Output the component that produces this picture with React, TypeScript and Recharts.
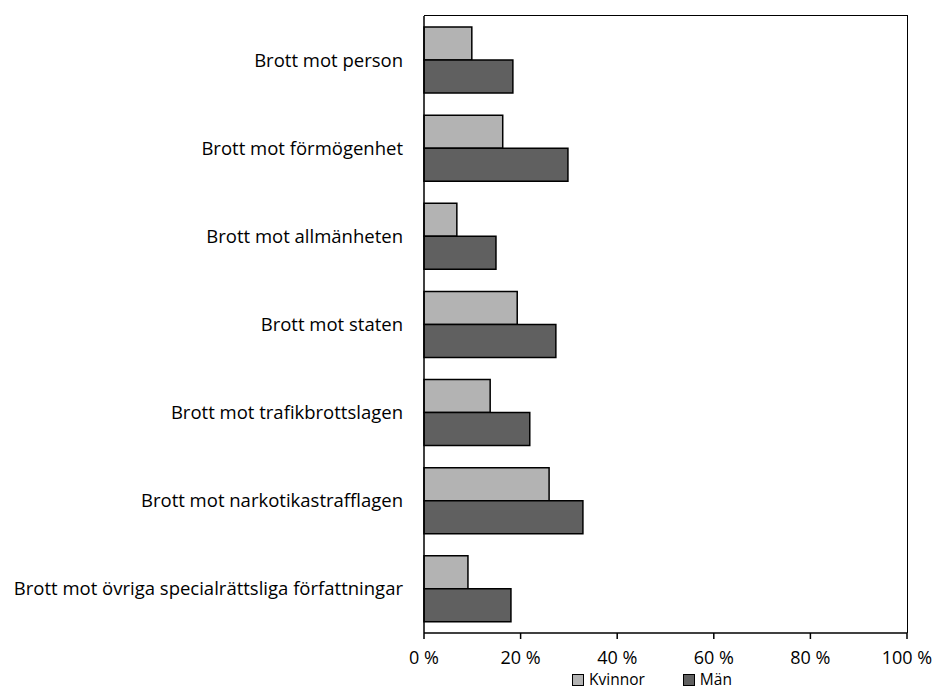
import React from "react";
import { BarChart, Bar, XAxis, YAxis } from "recharts";

const categories = [
	"Brott mot person",
	"Brott mot förmögenhet",
	"Brott mot allmänheten",
	"Brott mot staten",
	"Brott mot trafikbrottslagen",
	"Brott mot narkotikastrafflagen",
	"Brott mot övriga specialrättsliga författningar",
];

const kvinnor = [9.9, 16.3, 6.8, 19.3, 13.7, 25.9, 9.1];
const man = [18.4, 29.8, 14.9, 27.3, 21.9, 32.9, 18.0];

const xTicks = [0, 20, 40, 60, 80, 100];

const data = categories.map((name, i) => ({ name, kvinnor: kvinnor[i], man: man[i] }));

const FONT = "'Open Sans', sans-serif";
const KVINNOR_COLOR = "#b3b3b3";
const MAN_COLOR = "#606060";

// plot box
const PLOT = { left: 424, top: 16, right: 907, bottom: 633 };

const CategoryTick = (props: any) => {
	const { x, y, payload } = props;
	return (
		<text x={x - 13} y={y} dy="0.35em" textAnchor="end" fontSize={18.5} fill="#000" fontFamily={FONT}>
			{payload.value}
		</text>
	);
};

const legendItems = [
	{ label: "Kvinnor", color: KVINNOR_COLOR },
	{ label: "Män", color: MAN_COLOR },
];

export default function App() {
	return (
		<div style={{ position: "absolute", left: 0, top: 0, width: 946, height: 691, background: "#fff" }}>
			<BarChart
				width={946}
				height={691}
				data={data}
				layout="vertical"
				margin={{ top: PLOT.top, right: 946 - PLOT.right, bottom: 0, left: 0 }}
				barGap={0}
				barSize={33}
			>
				<XAxis
					type="number"
					domain={[0, 100]}
					ticks={xTicks}
					tickFormatter={(v) => `${v} %`}
					axisLine={{ stroke: "#000", strokeWidth: 1.5 }}
					tickLine={{ stroke: "#000", strokeWidth: 1.5 }}
					tickSize={6}
					tickMargin={12}
					tick={{ fontSize: 18, fill: "#000", fontFamily: FONT }}
					height={691 - PLOT.bottom}
					interval={0}
				/>
				<YAxis
					type="category"
					dataKey="name"
					width={PLOT.left}
					axisLine={{ stroke: "#000", strokeWidth: 1.5 }}
					tickLine={false}
					tick={<CategoryTick />}
					interval={0}
				/>
				<Bar dataKey="kvinnor" name="Kvinnor" fill={KVINNOR_COLOR} stroke="#000" strokeWidth={1.5} isAnimationActive={false} />
				<Bar dataKey="man" name="Män" fill={MAN_COLOR} stroke="#000" strokeWidth={1.5} isAnimationActive={false} />
			</BarChart>
			{/* top and right border of the plot area */}
			<div
				style={{
					position: "absolute",
					left: PLOT.left,
					top: PLOT.top - 1,
					width: PLOT.right - PLOT.left,
					height: PLOT.bottom - PLOT.top,
					borderTop: "1.5px solid #000",
					borderRight: "1.5px solid #000",
					pointerEvents: "none",
				}}
			/>
			<div
				style={{
					position: "absolute",
					left: 572,
					top: 672,
					display: "flex",
					gap: 38,
					fontFamily: FONT,
					fontSize: 15.5,
					lineHeight: "15px",
					color: "#000",
				}}
			>
				{legendItems.map((item) => (
					<div key={item.label} style={{ display: "flex", alignItems: "center" }}>
						<span
							style={{
								display: "inline-block",
								width: 10,
								height: 10,
								background: item.color,
								border: "1px solid #000",
								marginRight: 5,
							}}
						/>
						<span>{item.label}</span>
					</div>
				))}
			</div>
		</div>
	);
}
